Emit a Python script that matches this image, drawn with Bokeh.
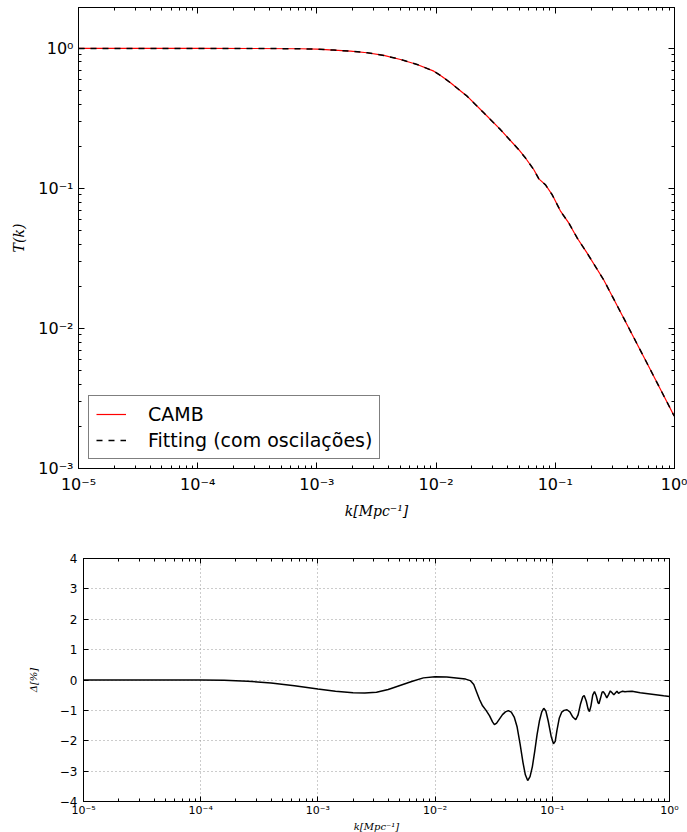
import numpy as np
from bokeh.plotting import figure
from bokeh.models import (LogAxis, LinearAxis, FixedTicker, CustomJSTickFormatter,
                          Range1d, Legend, LegendItem, Spacer)
from bokeh.layouts import column, row
from bokeh.embed import file_html
from bokeh.resources import INLINE

# ---------------- data ----------------
k_camb = [1e-5, 1e-4, 3e-4, 7.28e-4, 1.0e-3, 1.39e-3, 1.91e-3, 2.64e-3, 3.64e-3,
          5.02e-3, 6.93e-3, 9.57e-3, 1.12e-2, 1.32e-2,
          1.82e-2, 2.51e-2, 3.47e-2, 4.94e-2, 5.62e-2, 6.61e-2, 7.28e-2, 8.28e-2,
          9.42e-2, 0.111, 0.130, 0.153, 0.185, 0.255, 0.376, 0.590, 0.986, 1.0]
T_camb = [1.0, 1.0, 0.999, 0.995, 0.988, 0.973, 0.956, 0.931, 0.891,
          0.834, 0.768, 0.688, 0.631, 0.568,
          0.456, 0.347, 0.263, 0.189, 0.165, 0.136, 0.117, 0.106,
          0.0901, 0.0685, 0.0565, 0.0441, 0.0345, 0.0222, 0.0118, 0.00562, 0.00240, 0.00237]

k_fit = [1e-5, 1e-4, 3e-4, 7.28e-4, 1.0e-3, 1.39e-3, 1.91e-3, 2.64e-3, 3.64e-3,
         5.02e-3, 6.93e-3, 9.57e-3, 1.12e-2, 1.32e-2,
         1.82e-2, 2.51e-2, 3.47e-2, 4.94e-2, 5.62e-2, 6.61e-2, 7.28e-2, 8.28e-2,
         9.42e-2, 0.111, 0.130, 0.153, 0.185, 0.255, 0.376, 0.590, 0.986, 1.0]
T_fit = [1.0, 1.0, 0.999, 0.995, 0.988, 0.973, 0.956, 0.931, 0.891,
         0.834, 0.768, 0.688, 0.631, 0.568,
         0.456, 0.347, 0.263, 0.189, 0.165, 0.136, 0.117, 0.106,
         0.0901, 0.0685, 0.0565, 0.0441, 0.0345, 0.0222, 0.0118, 0.00562, 0.00240, 0.00237]

log10_k_delta = [-5.0, -4.5, -4.0, -3.8, -3.6, -3.4, -3.2, -3.0, -2.85, -2.7, -2.6,
                 -2.5, -2.4, -2.3, -2.2, -2.1, -2.0, -1.9, -1.8, -1.74, -1.70,
                 -1.67, -1.645, -1.62, -1.595, -1.565, -1.535, -1.51, -1.494,
                 -1.475, -1.45, -1.425, -1.40, -1.375, -1.35, -1.325, -1.30,
                 -1.275, -1.25, -1.23, -1.21, -1.19, -1.17, -1.15, -1.13, -1.11,
                 -1.09, -1.073, -1.055, -1.035, -1.01, -0.99, -0.975, -0.96,
                 -0.94, -0.92, -0.90, -0.875, -0.85, -0.825, -0.80, -0.78, -0.76,
                 -0.74, -0.728, -0.71, -0.695, -0.683, -0.67, -0.655, -0.64,
                 -0.625, -0.61, -0.602, -0.59, -0.575, -0.565, -0.55, -0.535,
                 -0.52, -0.505, -0.49, -0.475, -0.46, -0.448, -0.435, -0.42,
                 -0.40, -0.38, -0.36, -0.32, -0.25, -0.15, -0.05, 0.0]
delta_pct = [0.0, 0.0, 0.0, -0.01, -0.04, -0.10, -0.19, -0.30, -0.37, -0.42, -0.43,
             -0.40, -0.31, -0.18, -0.05, 0.07, 0.11, 0.10, 0.06, 0.03, -0.02,
             -0.15, -0.40, -0.65, -0.85, -1.0, -1.18, -1.38, -1.47,
             -1.42, -1.28, -1.14, -1.05, -1.01, -1.06, -1.22, -1.55,
             -2.10, -2.72, -3.12, -3.31, -3.18, -2.85, -2.35, -1.80, -1.35,
             -1.05, -0.93, -1.02, -1.35, -1.85, -2.10, -2.02, -1.65,
             -1.25, -1.06, -1.0, -0.98, -1.05, -1.22, -1.31, -1.15, -0.80,
             -0.55, -0.51, -0.70, -0.95, -1.04, -0.85, -0.50, -0.38,
             -0.52, -0.75, -0.78, -0.62, -0.40, -0.38, -0.47, -0.59,
             -0.48, -0.36, -0.42, -0.49, -0.42, -0.37, -0.44, -0.40,
             -0.37, -0.39, -0.38, -0.37, -0.42, -0.47, -0.52, -0.54]
k_delta = [10 ** v for v in log10_k_delta]

x_decades = [1e-5, 1e-4, 1e-3, 1e-2, 1e-1, 1e0]
y_decades = [1e-3, 1e-2, 1e-1, 1e0]
delta_ticks = [-4, -3, -2, -1, 0, 1, 2, 3, 4]

# ---------------- helpers ----------------
def minor_of(decades):
    out = []
    for d in decades[:-1]:
        out += [m * d for m in range(2, 10)]
    return out

sup_js = """
const sup = {"-": "\\u207b", "0": "\\u2070", "1": "\\u00b9", "2": "\\u00b2", "3": "\\u00b3",
             "4": "\\u2074", "5": "\\u2075", "6": "\\u2076", "7": "\\u2077", "8": "\\u2078", "9": "\\u2079"};
const e = Math.round(Math.log10(tick));
return "10" + String(e).split("").map(c => sup[c]).join("");
"""

def style_axis(ax, ticker, label_size, show_labels=True, tick_in=6, minor_in=3):
    ax.ticker = ticker
    ax.axis_line_color = "black"
    ax.axis_line_width = 1
    ax.major_tick_in = tick_in
    ax.major_tick_out = 0
    ax.minor_tick_in = minor_in
    ax.minor_tick_out = 0
    ax.major_tick_line_color = "black"
    ax.minor_tick_line_color = "black"
    ax.major_label_text_font = "DejaVu Sans"
    ax.major_label_text_font_size = label_size
    if show_labels:
        ax.major_label_text_color = "black"
    else:
        ax.major_label_text_font_size = "2px"
        ax.major_label_text_color = None
        ax.major_label_standoff = 0

# ---------------- top: T(k) ----------------
xt = FixedTicker(ticks=x_decades, minor_ticks=minor_of(x_decades))
yt = FixedTicker(ticks=y_decades, minor_ticks=minor_of(y_decades))

p1 = figure(x_axis_type="log", y_axis_type="log",
            frame_width=596, frame_height=461,
            x_range=Range1d(1e-5, 1.0), y_range=Range1d(1e-3, 1.96),
            min_border_left=78, min_border_right=13, min_border_top=7, min_border_bottom=57,
            output_backend="svg", toolbar_location=None)
p1.grid.visible = False
p1.outline_line_color = "black"
p1.background_fill_color = "white"
p1.border_fill_color = "white"

style_axis(p1.xaxis[0], xt, "16px")
style_axis(p1.yaxis[0], yt, "16px")
p1.xaxis[0].formatter = CustomJSTickFormatter(code=sup_js)
p1.yaxis[0].formatter = CustomJSTickFormatter(code=sup_js)
p1.xaxis[0].major_label_standoff = 6
p1.yaxis[0].major_label_standoff = 5
p1.xaxis[0].axis_label = "k[Mpc\u207b\u00b9]"
p1.yaxis[0].axis_label = "T(k)"
for ax in (p1.xaxis[0], p1.yaxis[0]):
    ax.axis_label_text_font = "DejaVu Serif"
    ax.axis_label_text_font_style = "italic"
    ax.axis_label_text_font_size = "14px"
    ax.axis_label_text_color = "black"
p1.xaxis[0].axis_label_standoff = 6
p1.yaxis[0].axis_label_standoff = 8

ax_top = LogAxis()
style_axis(ax_top, FixedTicker(ticks=x_decades, minor_ticks=minor_of(x_decades)), "16px", show_labels=False)
p1.add_layout(ax_top, "above")
ax_right = LogAxis()
style_axis(ax_right, FixedTicker(ticks=y_decades, minor_ticks=minor_of(y_decades)), "16px", show_labels=False)
p1.add_layout(ax_right, "right")

r_camb = p1.line(k_camb, T_camb, line_color="#ff0000", line_width=1.2)
r_fit = p1.line(k_fit, T_fit, line_color="black", line_width=1.5, line_dash="6 6")

legend = Legend(items=[LegendItem(label="CAMB", renderers=[r_camb]),
                       LegendItem(label="Fitting (com oscila\u00e7\u00f5es)", renderers=[r_fit])],
                location=(10, 9))
legend.border_line_color = "black"
legend.border_line_width = 1
legend.background_fill_alpha = 1.0
legend.label_text_font = "DejaVu Sans"
legend.label_text_font_size = "19px"
legend.label_text_color = "black"
legend.glyph_width = 30
legend.glyph_height = 20
legend.label_height = 20
legend.label_standoff = 22
legend.spacing = 4
legend.padding = 7
legend.margin = 0
p1.add_layout(legend)

# ---------------- bottom: Delta % ----------------
p2 = figure(x_axis_type="log",
            frame_width=586, frame_height=243,
            x_range=Range1d(1e-5, 1.0), y_range=Range1d(-4, 4),
            min_border_left=78, min_border_right=18, min_border_top=33, min_border_bottom=31,
            output_backend="svg", toolbar_location=None)
p2.outline_line_color = "#333333"
p2.background_fill_color = "white"
p2.border_fill_color = "white"

xt2 = FixedTicker(ticks=x_decades, minor_ticks=minor_of(x_decades))
yt2 = FixedTicker(ticks=delta_ticks)
style_axis(p2.xaxis[0], xt2, "11px", tick_in=5, minor_in=3)
style_axis(p2.yaxis[0], yt2, "12px", tick_in=5, minor_in=0)
p2.xaxis[0].formatter = CustomJSTickFormatter(code=sup_js)
p2.yaxis[0].major_label_overrides = {t: (("\u2212" + str(-t)) if t < 0 else str(t)) for t in delta_ticks}
p2.xaxis[0].major_label_standoff = 2
p2.yaxis[0].major_label_standoff = 6
p2.xaxis[0].axis_label = "k[Mpc\u207b\u00b9]"
p2.yaxis[0].axis_label = "\u0394[%]"
for ax in (p2.xaxis[0], p2.yaxis[0]):
    ax.axis_label_text_font = "DejaVu Serif"
    ax.axis_label_text_font_style = "italic"
    ax.axis_label_text_font_size = "10px"
    ax.axis_label_text_color = "black"
p2.xaxis[0].axis_label_standoff = 1
p2.yaxis[0].axis_label_standoff = 18

ax_top2 = LogAxis()
style_axis(ax_top2, FixedTicker(ticks=x_decades, minor_ticks=minor_of(x_decades)), "11px",
           show_labels=False, tick_in=5, minor_in=3)
p2.add_layout(ax_top2, "above")
ax_right2 = LinearAxis()
style_axis(ax_right2, FixedTicker(ticks=delta_ticks), "12px", show_labels=False, tick_in=5, minor_in=0)
p2.add_layout(ax_right2, "right")

p2.xgrid.ticker = FixedTicker(ticks=x_decades)
p2.ygrid.ticker = FixedTicker(ticks=delta_ticks)
p2.grid.grid_line_color = "#999999"
p2.grid.grid_line_dash = "1 3"
p2.grid.grid_line_width = 1

p2.line(k_delta, delta_pct, line_color="black", line_width=1.5)

layout = column(p1, row(Spacer(width=5, height=10), p2, spacing=0), spacing=0)
open("out.html", "w").write(file_html(layout, INLINE))
